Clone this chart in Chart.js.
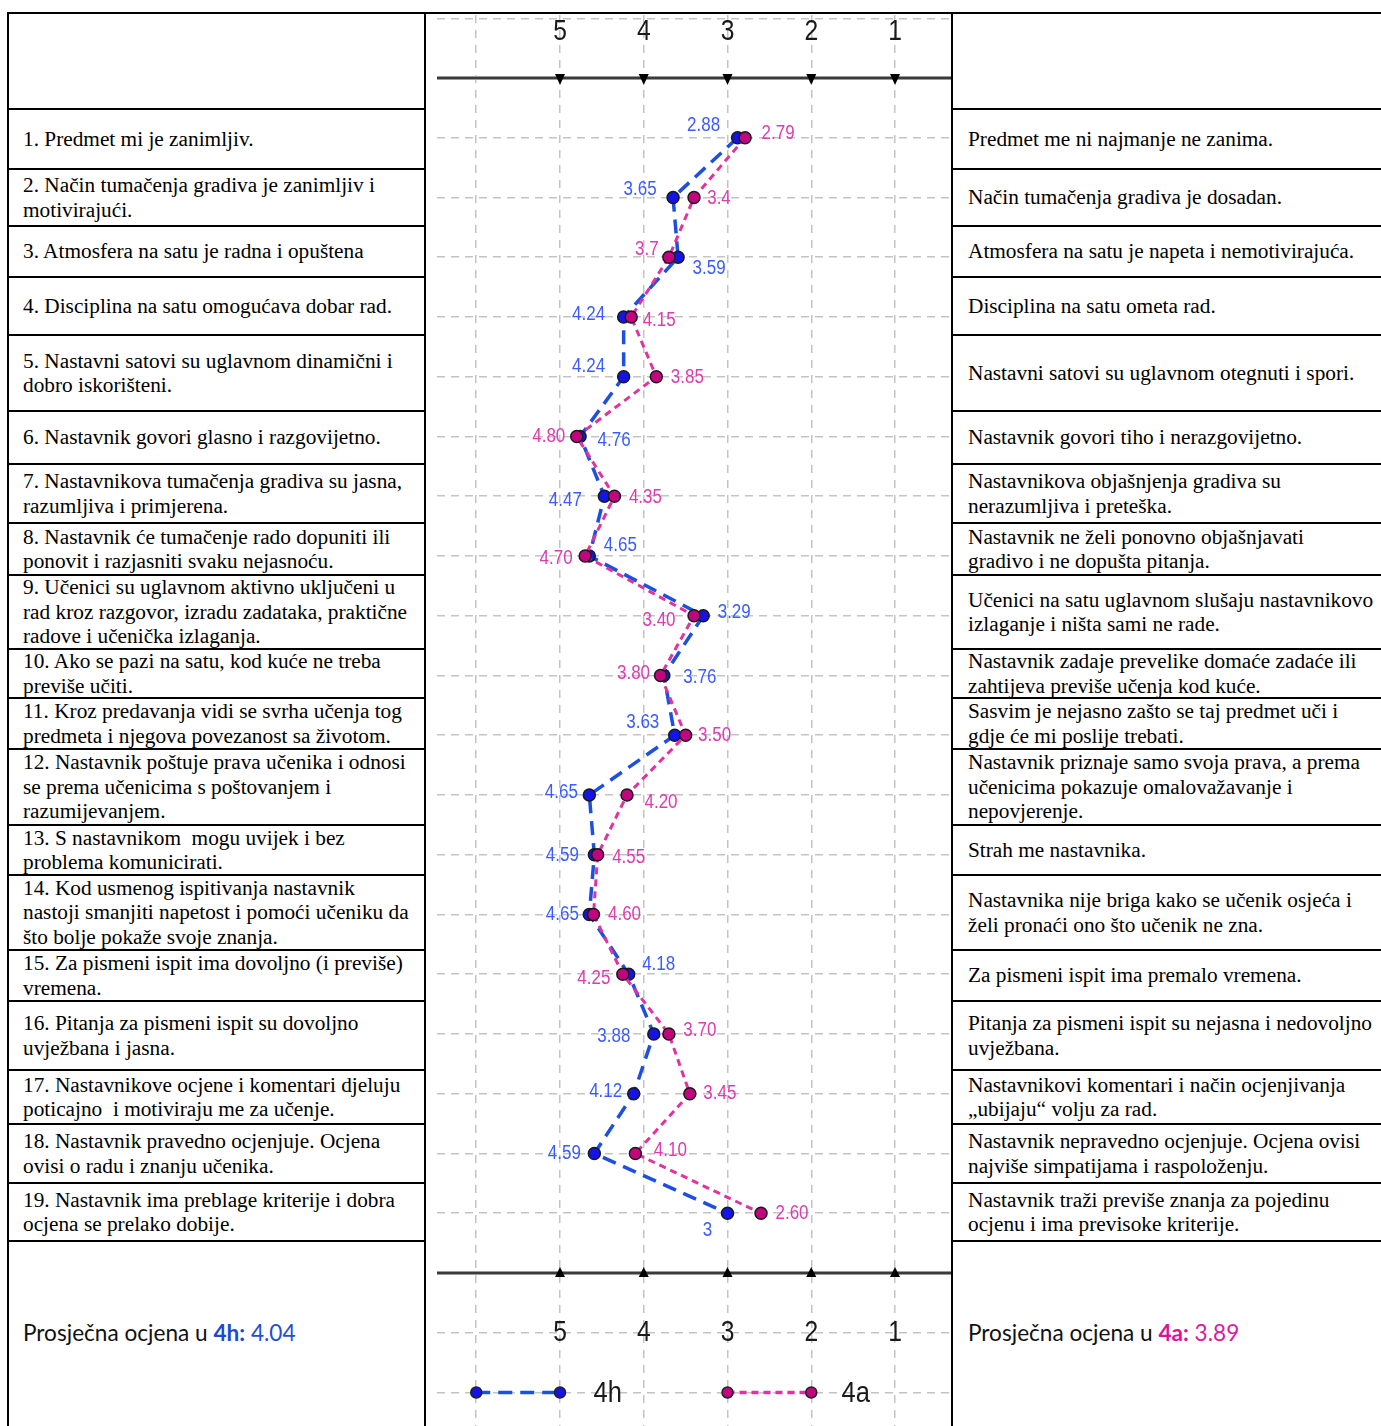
<!DOCTYPE html>
<html>
<head>
<meta charset="utf-8">
<script src="https://cdn.jsdelivr.net/npm/chart.js@4.4.1/dist/chart.umd.min.js"></script>
<style>
  html, body { margin:0; padding:0; background:#fff; }
  #page { position:relative; width:1381px; height:1426px; overflow:hidden; background:#fff; }
  .cell { position:absolute; display:flex; align-items:center; box-sizing:border-box;
          font-family:"Liberation Serif","Times New Roman",serif; font-size:21.3px; line-height:24.5px;
          color:#000; white-space:nowrap; }
  .hl, .vl { position:absolute; background:#000; }
  .avg { font-family:Lato,"Open Sans",sans-serif; font-size:22.6px; color:#111; }
  #chartBox { position:absolute; left:437px; top:15px; width:514px; height:1411px; }
</style>
</head>
<body>
<div id="page">
  <div id="chartBox"><canvas id="c" width="514" height="1411" style="width:514px;height:1411px"></canvas></div>
</div>
<script>
// ---------------- DATA ----------------
const leftStatements = [
  "1. Predmet mi je zanimljiv.",
  "2. Način tumačenja gradiva je zanimljiv i<br>motivirajući.",
  "3. Atmosfera na satu je radna i opuštena",
  "4. Disciplina na satu omogućava dobar rad.",
  "5. Nastavni satovi su uglavnom dinamični i<br>dobro iskorišteni.",
  "6. Nastavnik govori glasno i razgovijetno.",
  "7. Nastavnikova tumačenja gradiva su jasna,<br>razumljiva i primjerena.",
  "8. Nastavnik će tumačenje rado dopuniti ili<br>ponovit i razjasniti svaku nejasnoću.",
  "9. Učenici su uglavnom aktivno uključeni u<br>rad kroz razgovor, izradu zadataka, praktične<br>radove i učenička izlaganja.",
  "10. Ako se pazi na satu, kod kuće ne treba<br>previše učiti.",
  "11. Kroz predavanja vidi se svrha učenja tog<br>predmeta i njegova povezanost sa životom.",
  "12. Nastavnik poštuje prava učenika i odnosi<br>se prema učenicima s poštovanjem i<br>razumijevanjem.",
  "13. S nastavnikom&nbsp; mogu uvijek i bez<br>problema komunicirati.",
  "14. Kod usmenog ispitivanja nastavnik<br>nastoji smanjiti napetost i pomoći učeniku da<br>što bolje pokaže svoje znanja.",
  "15. Za pismeni ispit ima dovoljno (i previše)<br>vremena.",
  "16. Pitanja za pismeni ispit su dovoljno<br>uvježbana i jasna.",
  "17. Nastavnikove ocjene i komentari djeluju<br>poticajno&nbsp; i motiviraju me za učenje.",
  "18. Nastavnik pravedno ocjenjuje. Ocjena<br>ovisi o radu i znanju učenika.",
  "19. Nastavnik ima preblage kriterije i dobra<br>ocjena se prelako dobije."
];
const rightStatements = [
  "Predmet me ni najmanje ne zanima.",
  "Način tumačenja gradiva je dosadan.",
  "Atmosfera na satu je napeta i nemotivirajuća.",
  "Disciplina na satu ometa rad.",
  "Nastavni satovi su uglavnom otegnuti i spori.",
  "Nastavnik govori tiho i nerazgovijetno.",
  "Nastavnikova objašnjenja gradiva su<br>nerazumljiva i preteška.",
  "Nastavnik ne želi ponovno objašnjavati<br>gradivo i ne dopušta pitanja.",
  "Učenici na satu uglavnom slušaju nastavnikovo<br>izlaganje i ništa sami ne rade.",
  "Nastavnik zadaje prevelike domaće zadaće ili<br>zahtijeva previše učenja kod kuće.",
  "Sasvim je nejasno zašto se taj predmet uči i<br>gdje će mi poslije trebati.",
  "Nastavnik priznaje samo svoja prava, a prema<br>učenicima pokazuje omalovažavanje i<br>nepovjerenje.",
  "Strah me nastavnika.",
  "Nastavnika nije briga kako se učenik osjeća i<br>želi pronaći ono što učenik ne zna.",
  "Za pismeni ispit ima premalo vremena.",
  "Pitanja za pismeni ispit su nejasna i nedovoljno<br>uvježbana.",
  "Nastavnikovi komentari i način ocjenjivanja<br>„ubijaju“ volju za rad.",
  "Nastavnik nepravedno ocjenjuje. Ocjena ovisi<br>najviše simpatijama i raspoloženju.",
  "Nastavnik traži previše znanja za pojedinu<br>ocjenu i ima previsoke kriterije."
];
const seriesNames = ["4h", "4a"];
const score4h = [2.88, 3.65, 3.59, 4.24, 4.24, 4.76, 4.47, 4.65, 3.29, 3.76, 3.63, 4.65, 4.59, 4.65, 4.18, 3.88, 4.12, 4.59, 3];
const score4a = [2.79, 3.4, 3.7, 4.15, 3.85, 4.80, 4.35, 4.70, 3.40, 3.80, 3.50, 4.20, 4.55, 4.60, 4.25, 3.70, 3.45, 4.10, 2.60];
const valueLabels4h = ["2.88","3.65","3.59","4.24","4.24","4.76","4.47","4.65","3.29","3.76","3.63","4.65","4.59","4.65","4.18","3.88","4.12","4.59","3"];
const valueLabels4a = ["2.79","3.4","3.7","4.15","3.85","4.80","4.35","4.70","3.40","3.80","3.50","4.20","4.55","4.60","4.25","3.70","3.45","4.10","2.60"];
const tickValues = [5, 4, 3, 2, 1];
const tickLabels = ["5", "4", "3", "2", "1"];
const average4h = "4.04";
const average4a = "3.89";

// ---------------- LAYOUT / STYLE ----------------
const rowBounds = [13,109,169,226,277,335,411,464,523,575,649,698,749,825,875,950,1001,1070,1124,1183,1241,1426];
const off4h = [[-34,-12],[-33,-8],[31,11],[-35,-3],[-35,-10],[34,4],[-39,4],[31,-11],[31,-3],[36,2],[-32,-13],[-28,-3],[-32,1],[-27,0],[30,-10],[-40,2],[-28,-2],[-30,0],[-20,17]];
const off4a = [[33,-4],[25,1],[-22,-8],[28,3],[31,1],[-28,0],[31,1],[-29,2],[-35,5],[-27,-2],[29,0],[34,7],[31,3],[31,0],[-29,4],[31,-4],[30,0],[35,-3],[31,0]];
const colors = {
  line4h:'#1d4fe0', point4h:'#1414e6', label4h:'#3a5cff',
  line4a:'#e2329e', point4a:'#c2057f', label4a:'#dc3caf'
};

// ---------------- TABLE ----------------
const page = document.getElementById('page');
function addDiv(cls, css, html){ const d=document.createElement('div'); d.className=cls; Object.assign(d.style, css); if(html!==undefined) d.innerHTML=html; page.appendChild(d); return d; }
const L0=8, L1=425, R0=952, R1=1381;
for (let i=0;i<rowBounds.length-1;i++){
  const top=rowBounds[i], h=rowBounds[i+1]-rowBounds[i];
  let lt='', rt='';
  if (i>=1 && i<=19){ lt=leftStatements[i-1]; rt=rightStatements[i-1]; }
  if (i===20){
    lt='<span class="avg">Prosječna ocjena u <b style="color:#1a4ad0">4h:</b> <span style="color:#1d4fd8">'+average4h+'</span></span>';
    rt='<span class="avg">Prosječna ocjena u <b style="color:#d8139a">4a:</b> <span style="color:#e0189f">'+average4a+'</span></span>';
  }
  addDiv('cell',{left:(L0+2)+'px',top:top+'px',width:(L1-L0-2)+'px',height:h+'px',paddingLeft:'13px'},lt);
  addDiv('cell',{left:(R0+1)+'px',top:top+'px',width:(R1-R0-1)+'px',height:h+'px',paddingLeft:'15px'},rt);
}
rowBounds.slice(0,-1).forEach((b,i)=>{
  if(i===0){ addDiv('hl',{left:L0+'px',top:(b-1)+'px',width:(R1-L0)+'px',height:'2px'}); }
  else {
    addDiv('hl',{left:L0+'px',top:(b-1)+'px',width:(L1-L0+1)+'px',height:'2px'});
    addDiv('hl',{left:(R0-1)+'px',top:(b-1)+'px',width:(R1-R0+1)+'px',height:'2px'});
  }
});
[L0, L1, R0].forEach(x=> addDiv('vl',{left:(x-1)+'px',top:'12px',width:'2px',height:'1414px'}));

// ---------------- CHART ----------------
function narrowText(ctx, text, cx, cy, size, color, sx){
  ctx.save();
  ctx.translate(cx, cy);
  ctx.scale(sx, 1);
  ctx.font = size + 'px "Liberation Sans", Arial, sans-serif';
  ctx.fillStyle = color;
  ctx.textAlign = 'center';
  ctx.textBaseline = 'middle';
  ctx.fillText(text, 0, 0);
  ctx.restore();
}
const axisRows = [0, 20];
const tickLabelRows = [-0.77, 21];
const legendRow = 22;
const legendSpec = [
  {name:seriesNames[0], from:6, to:5, textAt:4.43, line:colors.line4h, point:colors.point4h, dash:[14,8]},
  {name:seriesNames[1], from:3, to:2, textAt:1.47, line:colors.line4a, point:colors.point4a, dash:[7,5]}
];

const overlay = {
  id:'overlay',
  beforeDatasetsDraw(chart){
    const {ctx, chartArea, scales:{x, y}} = chart;
    ctx.save();
    axisRows.forEach((r,k)=>{
      const py = y.getPixelForValue(r);
      ctx.strokeStyle = '#9a9a9a'; ctx.lineWidth = 4;
      ctx.beginPath(); ctx.moveTo(chartArea.left, py); ctx.lineTo(chartArea.right, py); ctx.stroke();
      ctx.strokeStyle = '#3a3a3a'; ctx.lineWidth = 2;
      ctx.beginPath(); ctx.moveTo(chartArea.left, py); ctx.lineTo(chartArea.right, py); ctx.stroke();
      ctx.fillStyle = '#000';
      tickValues.forEach(v=>{
        const px = x.getPixelForValue(v);
        ctx.beginPath();
        if (k===0){ ctx.moveTo(px-5, py-4); ctx.lineTo(px+5, py-4); ctx.lineTo(px, py+7); }
        else { ctx.moveTo(px-5, py+4); ctx.lineTo(px+5, py+4); ctx.lineTo(px, py-6); }
        ctx.closePath(); ctx.fill();
      });
    });
    ctx.restore();
  },
  afterDatasetsDraw(chart){
    const {ctx, scales:{x, y}} = chart;
    tickLabelRows.forEach(r=>{
      const py = y.getPixelForValue(r);
      tickValues.forEach((v,i)=> narrowText(ctx, tickLabels[i], x.getPixelForValue(v), py, 29, '#1a1a1a', 0.85));
    });
    score4h.forEach((v,i)=>{
      const px = x.getPixelForValue(v), py = y.getPixelForValue(i+1);
      narrowText(ctx, valueLabels4h[i], px+off4h[i][0], py+off4h[i][1], 20, colors.label4h, 0.85);
    });
    score4a.forEach((v,i)=>{
      const px = x.getPixelForValue(v), py = y.getPixelForValue(i+1);
      narrowText(ctx, valueLabels4a[i], px+off4a[i][0], py+off4a[i][1], 20, colors.label4a, 0.85);
    });
    const ly = y.getPixelForValue(legendRow);
    legendSpec.forEach(s=>{
      const x1 = x.getPixelForValue(s.from), x2 = x.getPixelForValue(s.to);
      ctx.save();
      ctx.strokeStyle = s.line; ctx.lineWidth = 3.5; ctx.setLineDash(s.dash);
      ctx.beginPath(); ctx.moveTo(x1, ly); ctx.lineTo(x2, ly); ctx.stroke();
      ctx.setLineDash([]);
      [x1, x2].forEach(px=>{
        ctx.beginPath(); ctx.arc(px, ly, 5.5, 0, Math.PI*2);
        ctx.fillStyle = s.point; ctx.fill();
        ctx.lineWidth = 1.5; ctx.strokeStyle = '#222'; ctx.stroke();
      });
      ctx.restore();
      narrowText(ctx, s.name, x.getPixelForValue(s.textAt), ly+1, 30, '#1a1a1a', 0.85);
    });
  }
};

const gridTicks = (vals) => (axis) => { axis.ticks = vals.map(v=>({value:v})); };
const rowsAll = []; for (let r=-1; r<=22; r++) rowsAll.push(r);

new Chart(document.getElementById('c'), {
  type:'line',
  data:{
    datasets:[
      { label:seriesNames[0], order:1,
        data: score4h.map((v,i)=>({x:v, y:i+1})),
        borderColor:colors.line4h, borderWidth:3.5, borderDash:[14,8],
        pointBackgroundColor:colors.point4h, pointBorderColor:'#1a1a1a', pointBorderWidth:1.5, pointRadius:6,
        tension:0, fill:false },
      { label:seriesNames[1], order:0,
        data: score4a.map((v,i)=>({x:v, y:i+1})),
        borderColor:colors.line4a, borderWidth:3, borderDash:[7,5],
        pointBackgroundColor:colors.point4a, pointBorderColor:'#1a1a1a', pointBorderWidth:1.5, pointRadius:6,
        tension:0, fill:false }
    ]
  },
  options:{
    responsive:false, animation:false, devicePixelRatio:1,
    layout:{padding:0, autoPadding:false},
    plugins:{legend:{display:false}, tooltip:{enabled:false}},
    scales:{
      x:{ type:'linear', reverse:true, min:0.3316, max:6.4686,
          afterBuildTicks: gridTicks([1,2,3,4,5,6]),
          ticks:{display:false}, grid:{color:'#c4c4c4', lineWidth:1.5, drawTicks:false},
          border:{display:false, dash:[8,7]} },
      y:{ type:'linear', reverse:true, min:-1.0544, max:22.561,
          afterBuildTicks: gridTicks(rowsAll),
          ticks:{display:false}, grid:{color:'#c4c4c4', lineWidth:1.5, drawTicks:false},
          border:{display:false, dash:[8,6]} }
    }
  },
  plugins:[overlay]
});
</script>
</body>
</html>
